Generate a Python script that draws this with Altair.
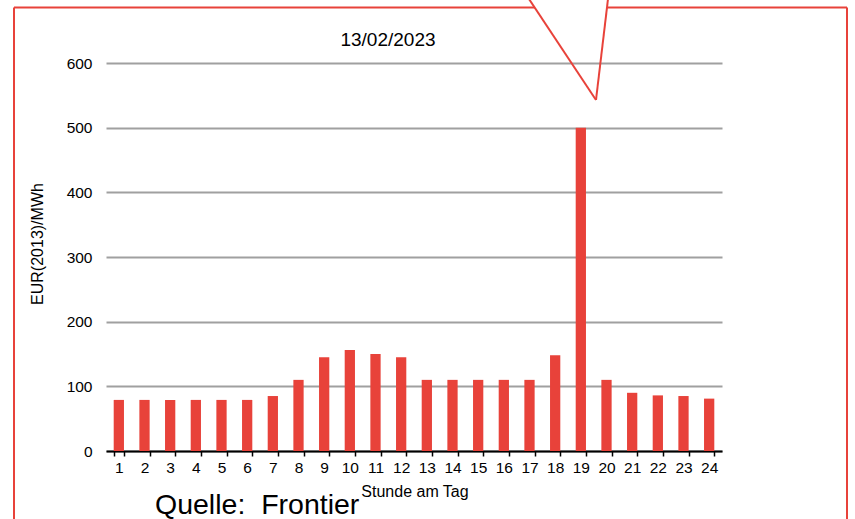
import altair as alt
import pandas as pd

hours = [str(h) for h in range(1, 25)]
prices = [79, 79, 79, 79, 79, 79, 85, 110, 145, 156, 150, 145,
          110, 110, 110, 110, 110, 148, 500, 110, 90, 86, 85, 81]
y_ticks = [0, 100, 200, 300, 400, 500, 600]

chart_title = "13/02/2023"
y_title = "EUR(2013)/MWh"
x_title = "Stunde am Tag"
source_text = "Quelle:\u00a0\u00a0Frontier"

RED = "#e8423a"
FONT = "Liberation Sans"

df = pd.DataFrame({"hour": hours, "price": prices})
one = pd.DataFrame({"a": [0]})

bars = alt.Chart(df).mark_bar(color=RED).encode(
    x=alt.X("hour:O", sort=hours,
            scale=alt.Scale(paddingInner=0.6, paddingOuter=0.3),
            axis=alt.Axis(title=None, labelAngle=0, tickBand="extent",
                          domainColor="black", domainWidth=2, tickColor="black",
                          tickWidth=1.5, tickSize=5, labelFontSize=15.5,
                          labelFont=FONT, labelColor="black", labelPadding=4,
                          grid=False)),
    y=alt.Y("price:Q", scale=alt.Scale(domain=[0, 600], nice=False),
            axis=alt.Axis(title=None, values=y_ticks, domain=False, ticks=False,
                          gridColor="#a0a0a0", gridWidth=2, labelFontSize=15.5,
                          labelFont=FONT, labelColor="black", labelPadding=14)),
)

def seg(x, y, x2, y2):
    return alt.Chart(one).mark_rule(color=RED, strokeWidth=2, clip=False).encode(
        x=alt.value(x), y=alt.value(y), x2=alt.value(x2), y2=alt.value(y2))

frame = [
    seg(-92, -55.5, -92, 470),      # left
    seg(741, -55.5, 741, 470),      # right
    seg(-92, -55.5, 429, -55.5),    # top left part
    seg(501, -55.5, 741, -55.5),    # top right part
    seg(423, -64, 490, 37),         # callout left
    seg(502, -64, 490, 37),         # callout right
]

def txt(text, x, y, size, angle=0, align="center", baseline="middle"):
    return alt.Chart(one).mark_text(text=text, fontSize=size, font=FONT,
                                    color="black", angle=angle, align=align,
                                    baseline=baseline).encode(
        x=alt.value(x), y=alt.value(y))

texts = [
    txt(chart_title, 282, -23, 19),
    txt(y_title, -68, 181, 16, angle=270),
    txt(x_title, 309, 434, 16, baseline="alphabetic"),
    txt(source_text, 49, 451, 28.5, align="left", baseline="alphabetic"),
]

chart = alt.layer(bars, *frame, *texts).properties(
    width=616, height=388,
    autosize=alt.AutoSizeParams(type="none"),
    padding={"left": 106, "top": 63, "right": 133, "bottom": 68},
    background="white",
).configure_view(stroke=None)

chart.save("out.html", embed_options={"renderer": "svg", "actions": False})
